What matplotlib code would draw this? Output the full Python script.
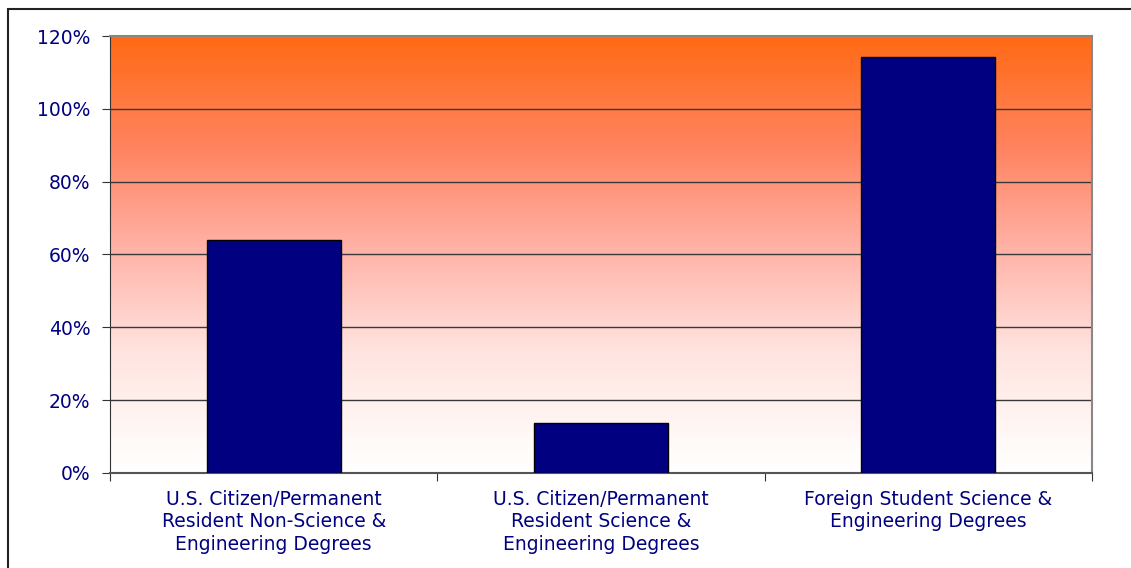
import matplotlib
matplotlib.use('Agg')
import matplotlib.pyplot as plt
import numpy as np
from matplotlib.colors import LinearSegmentedColormap
from matplotlib.patches import Rectangle
from matplotlib.ticker import FuncFormatter

categories = ['U.S. Citizen/Permanent\nResident Non-Science &\nEngineering Degrees',
              'U.S. Citizen/Permanent\nResident Science &\nEngineering Degrees',
              'Foreign Student Science &\nEngineering Degrees']
values = [64.0, 13.8, 114.3]
yticks = [0, 20, 40, 60, 80, 100, 120]

navy = '#000080'
plt.rcParams['font.family'] = ['DejaVu Sans']

fig = plt.figure(figsize=(11.31, 5.68), dpi=100)
ax = fig.add_axes([0.0973, 0.1673, 0.8682, 0.7693])

# background gradient, orange at top fading to white
cmap = LinearSegmentedColormap.from_list('bg', [
    (0.0, '#FF6A14'), (0.26, '#FF8462'), (0.49, '#FFB3A8'),
    (0.72, '#FFE3DF'), (0.95, '#FFFCFA'), (1.0, '#FFFFFF')])
grad = np.linspace(0, 1, 256).reshape(-1, 1)
ax.imshow(grad, cmap=cmap, extent=[0, 1, 0, 1], transform=ax.transAxes,
          aspect='auto', zorder=0)

x = np.arange(len(categories))
ax.bar(x, values, width=0.41, color=navy, edgecolor='black', linewidth=1, zorder=3)

ax.set_xlim(-0.5, len(categories) - 0.5)
ax.set_ylim(0, 120)
ax.set_yticks(yticks)
ax.yaxis.set_major_formatter(FuncFormatter(lambda v, p: '%d%%' % v))
for t in yticks[1:-1]:
    ax.axhline(t, color='#3a3a3a', linewidth=1, zorder=2)

# category boundaries get the tick marks, labels sit in the middle
ax.set_xticks(np.arange(-0.5, len(categories), 1.0))
ax.set_xticklabels([''] * (len(categories) + 1))
ax.set_xticks(x, minor=True)
ax.set_xticklabels(categories, minor=True, linespacing=1.25)
ax.tick_params(axis='x', which='minor', length=0, pad=12, labelsize=13.5, labelcolor=navy)
ax.tick_params(axis='x', which='major', length=6, color='#333333')
ax.tick_params(axis='y', length=6, color='#333333', labelsize=13.5, labelcolor=navy, pad=8)

for s in ['top', 'right']:
    ax.spines[s].set_color('#888888')
    ax.spines[s].set_linewidth(1.5)
ax.spines['left'].set_color('#333333')
ax.spines['bottom'].set_color('#555555')
ax.spines['bottom'].set_linewidth(1.5)

# outer frame
fig.patches.append(Rectangle((8 / 1131, -0.1), 1.2, 1.1 - 9 / 568, transform=fig.transFigure,
                             fill=False, edgecolor='#222222', linewidth=1.5))

fig.savefig('out.png', dpi=100)
